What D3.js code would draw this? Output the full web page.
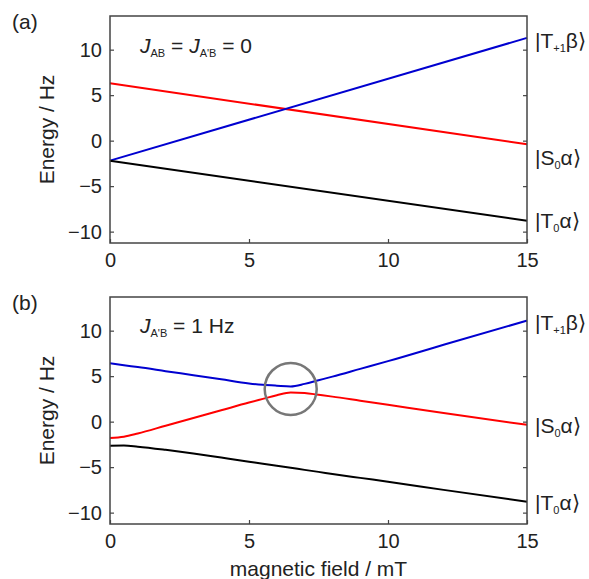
<!DOCTYPE html>
<html>
<head>
<meta charset="utf-8">
<script src="https://cdn.jsdelivr.net/npm/d3@7"></script>
<style>
  body { margin:0; background:#fff; }
  text { font-family:"Liberation Sans", Arial, sans-serif; fill:#222; }
</style>
</head>
<body>
<div id="chart-area"></div>
<script>
// tick values
const xTicks = [0, 5, 10, 15];
const yTicks = [-10, -5, 0, 5, 10];

// panel (a): J = 0, straight diabatic levels
const fieldA = [0, 15];
const blueA  = [-2.2, 11.3];
const redA   = [6.3, -0.4];
const blackA = [-2.2, -8.8];

// panel (b): J_A'B = 1 Hz, avoided crossings
const fieldB = [0, 0.5, 1, 2, 3, 4, 5, 5.5, 6, 6.5, 7, 7.5, 8, 9, 10, 12, 15];
const blueB  = [6.42, 6.2, 6.0, 5.55, 5.1, 4.65, 4.2, 4.05, 3.95, 3.87, 4.15, 4.55, 4.95, 5.8, 6.65, 8.45, 11.1];
const redB   = [-1.8, -1.65, -1.3, -0.45, 0.4, 1.25, 2.1, 2.5, 2.9, 3.2, 3.15, 2.95, 2.75, 2.3, 1.85, 0.95, -0.35];
const blackB = [-2.64, -2.62, -2.75, -3.1, -3.5, -3.95, -4.4, -4.62, -4.85, -5.07, -5.3, -5.52, -5.75, -6.18, -6.6, -7.5, -8.8];

const margin = { left:110, top:16 };
const width = 417, height = 227;
const panelGap = 281;

var svg = d3.select("#chart-area")
    .append("svg")
    .attr("width", 589)
    .attr("height", 579);

const x = d3.scaleLinear().domain([0, 15]).range([0, width]);
const y = d3.scaleLinear().domain([-11.25, 13.7]).range([height, 0]);

const line = d3.line()
    .x(function(d){ return x(d[0]); })
    .y(function(d){ return y(d[1]); })
    .curve(d3.curveMonotoneX);

function drawPanel(offset, letter, field, series, kets){
    const g = svg.append("g")
        .attr("transform", "translate(" + margin.left + ", " + (margin.top + offset) + ")");

    // left axis
    g.append("g")
        .call(d3.axisLeft(y).tickValues(yTicks).tickSize(-4).tickPadding(8))
        .call(function(s){ s.select(".domain").remove(); })
        .selectAll("text").attr("font-size", "20px").attr("font-family", null);

    // right axis, ticks only
    g.append("g")
        .attr("transform", "translate(" + width + ",0)")
        .call(d3.axisRight(y).tickValues(yTicks).tickSize(-4).tickFormat(""))
        .call(function(s){ s.select(".domain").remove(); });

    // bottom axis
    g.append("g")
        .attr("transform", "translate(0," + height + ")")
        .call(d3.axisBottom(x).tickValues(xTicks).tickSize(-4).tickPadding(10))
        .call(function(s){ s.select(".domain").remove(); })
        .selectAll("text").attr("font-size", "20px").attr("font-family", null);

    svg.selectAll(".tick line").attr("stroke", "#444").attr("stroke-width", 1.2);

    // lines
    series.forEach(function(s){
        g.append("path")
            .datum(field.map(function(f, i){ return [f, s.values[i]]; }))
            .attr("fill", "none")
            .attr("stroke", s.color)
            .attr("stroke-width", 2)
            .attr("d", line);
    });

    // frame
    g.append("rect")
        .attr("width", width)
        .attr("height", height)
        .attr("fill", "none")
        .attr("stroke", "#444")
        .attr("stroke-width", 1.5);

    // Y label
    g.append("text")
        .attr("x", -(height / 2))
        .attr("y", -56)
        .attr("font-size", "21px")
        .attr("text-anchor", "middle")
        .attr("transform", "rotate(-90)")
        .text("Energy / Hz");

    // panel letter
    svg.append("text")
        .attr("x", 12)
        .attr("y", 29 + offset)
        .attr("font-size", "21px")
        .text(letter);

    // state labels
    kets.forEach(function(k){
        const t = svg.append("text")
            .attr("x", 535)
            .attr("y", k.y + offset)
            .attr("font-size", "21px");
        t.append("tspan").text("|" + k.main);
        t.append("tspan").attr("font-size", "11px").attr("dy", 4).text(k.sub);
        t.append("tspan").attr("dy", -4).text(k.end + "\u27E9");
    });
    return g;
}

// (a)
const ga = drawPanel(0, "(a)", fieldA, [
    { color:"#ff0000", values:redA },
    { color:"#0000d0", values:blueA },
    { color:"#000000", values:blackA }
], [
    { main:"T", sub:"+1", end:"\u03B2", y:48 },
    { main:"S", sub:"0", end:"\u03B1", y:165 },
    { main:"T", sub:"0", end:"\u03B1", y:228 }
]);

const ta = ga.append("text").attr("x", 30).attr("y", 37).attr("font-size", "21px");
ta.append("tspan").attr("font-style", "italic").text("J");
ta.append("tspan").attr("font-size", "11px").attr("dy", 4).text("AB");
ta.append("tspan").attr("dy", -4).text(" = ");
ta.append("tspan").attr("font-style", "italic").text("J");
ta.append("tspan").attr("font-size", "11px").attr("dy", 4).text("A'B");
ta.append("tspan").attr("dy", -4).text(" = 0");

// (b)
const gb = drawPanel(panelGap, "(b)", fieldB, [
    { color:"#ff0000", values:redB },
    { color:"#0000d0", values:blueB },
    { color:"#000000", values:blackB }
], [
    { main:"T", sub:"+1", end:"\u03B2", y:49 },
    { main:"S", sub:"0", end:"\u03B1", y:152 },
    { main:"T", sub:"0", end:"\u03B1", y:229 }
]);

const tb = gb.append("text").attr("x", 30).attr("y", 36).attr("font-size", "21px");
tb.append("tspan").attr("font-style", "italic").text("J");
tb.append("tspan").attr("font-size", "11px").attr("dy", 4).text("A'B");
tb.append("tspan").attr("dy", -4).text(" = 1 Hz");

// avoided-crossing marker
gb.append("circle")
    .attr("cx", x(6.5))
    .attr("cy", y(3.6))
    .attr("r", 26)
    .attr("fill", "none")
    .attr("stroke", "#777")
    .attr("stroke-width", 2.5);

// X label
svg.append("text")
    .attr("x", margin.left + width / 2)
    .attr("y", 576)
    .attr("font-size", "21px")
    .attr("text-anchor", "middle")
    .text("magnetic field / mT");
</script>
</body>
</html>
